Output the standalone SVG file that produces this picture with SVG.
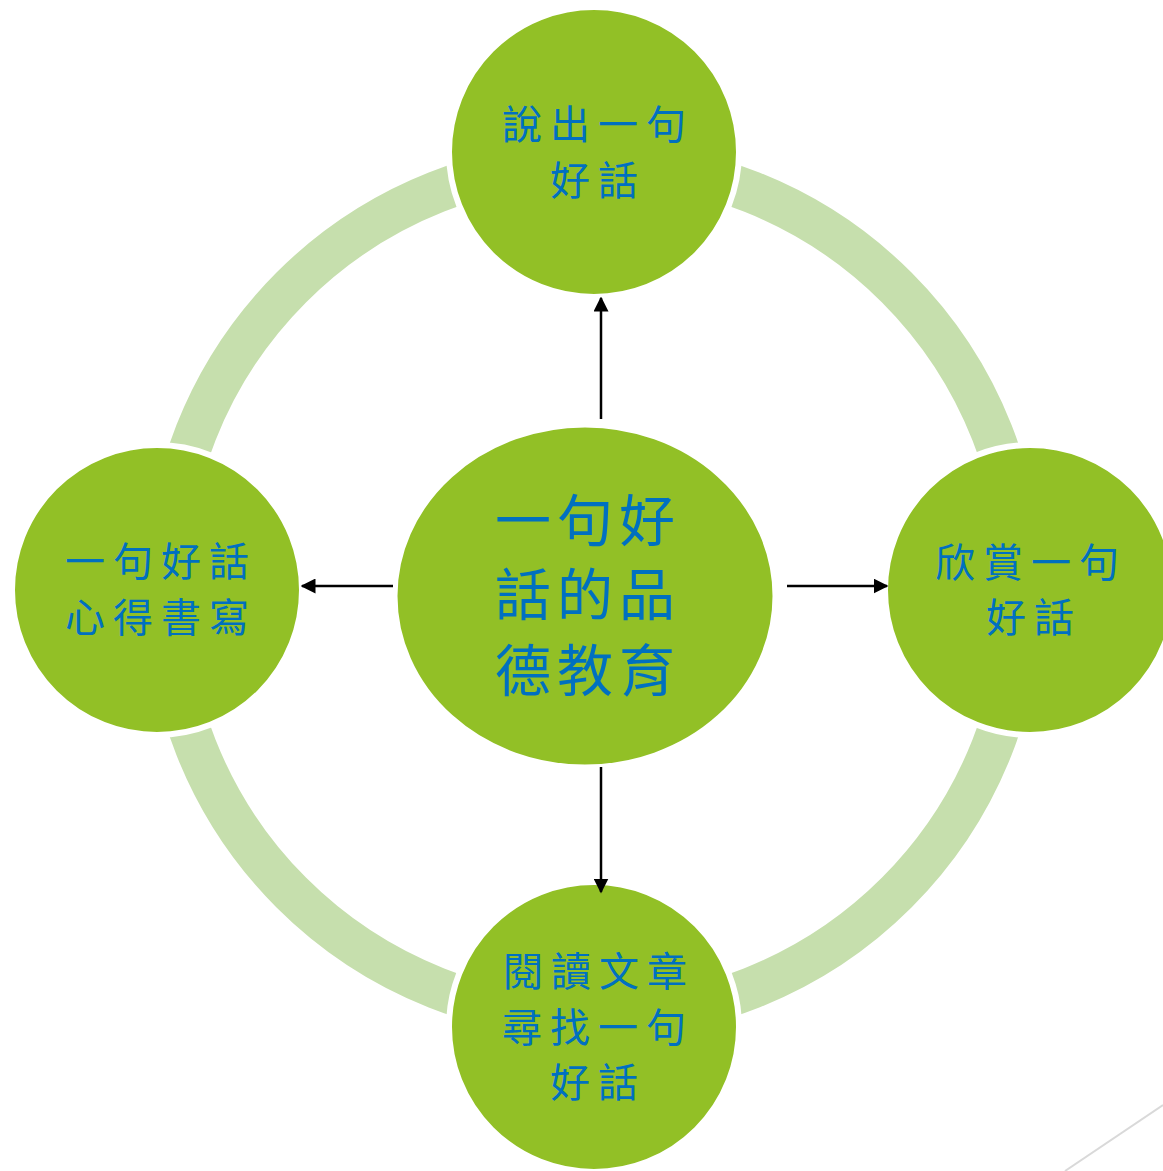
<svg xmlns="http://www.w3.org/2000/svg" width="1163" height="1171" viewBox="0 0 1163 1171">
<defs>
<style>
.node{fill:#92C026;stroke:#FFFFFF;stroke-width:6}
.lbl{font-family:"Noto Sans CJK TC","Noto Sans CJK SC",sans-serif;fill:#0070C0;text-anchor:middle}
.s{font-size:40px;letter-spacing:8px}
.b{font-size:56px;letter-spacing:6px}
.arr{stroke:#000;stroke-width:2.5;fill:none;marker-end:url(#ah)}
</style>
<marker id="ah" viewBox="0 0 10 10" refX="9" refY="5" markerWidth="6" markerHeight="6" orient="auto" markerUnits="strokeWidth">
<path d="M0,0 L10,5 L0,10 z" fill="#000"/>
</marker>
</defs>
<rect width="1163" height="1171" fill="#FFFFFF"/>
<line x1="1065" y1="1171" x2="1163" y2="1105" stroke="#D9D9D9" stroke-width="2"/>
<g id="ring">
<circle cx="594" cy="590" r="428" fill="none" stroke="#C6DFAD" stroke-width="42"/>
</g>
<g id="node-top">
<circle class="node" cx="594" cy="152" r="145"/>
<text class="lbl s" x="598" y="139">說出一句</text>
<text class="lbl s" x="598" y="195">好話</text>
</g>
<g id="node-right">
<circle class="node" cx="1030" cy="590" r="145"/>
<text class="lbl s" x="1031" y="577">欣賞一句</text>
<text class="lbl s" x="1034" y="632">好話</text>
</g>
<g id="node-bottom">
<circle class="node" cx="594" cy="1027" r="145"/>
<text class="lbl s" x="599" y="986">閱讀文章</text>
<text class="lbl s" x="598" y="1042">尋找一句</text>
<text class="lbl s" x="598" y="1097">好話</text>
</g>
<g id="node-left">
<circle class="node" cx="157" cy="590" r="145"/>
<text class="lbl s" x="161" y="576">一句好話</text>
<text class="lbl s" x="161" y="632">心得書寫</text>
</g>
<g id="node-center">
<ellipse cx="585" cy="596" rx="189" ry="170" fill="#92C026" stroke="#FFFFFF" stroke-width="3"/>
<text class="lbl b" x="588" y="541">一句好</text>
<text class="lbl b" x="588" y="615">話的品</text>
<text class="lbl b" x="588" y="691">德教育</text>
</g>
<g id="connectors">
<line class="arr" x1="601" y1="419" x2="601" y2="298"/>
<line class="arr" x1="601" y1="767" x2="601" y2="892"/>
<line class="arr" x1="393" y1="586" x2="302" y2="586"/>
<line class="arr" x1="787" y1="586" x2="887" y2="586"/>
</g>
</svg>
